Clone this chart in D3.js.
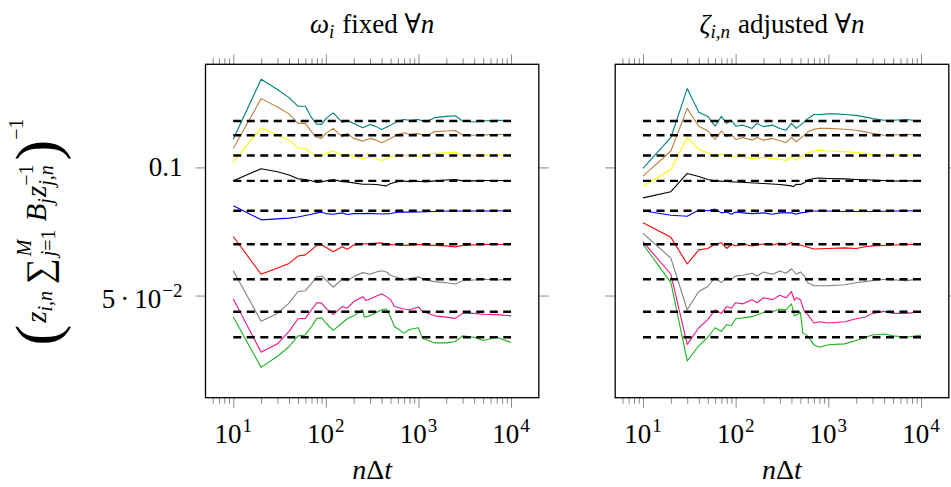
<!DOCTYPE html>
<html>
<head>
<meta charset="utf-8">
<script src="https://cdn.jsdelivr.net/npm/d3@7"></script>
<style>
  body { margin: 0; background: #fff; }
  text { font-family: "Liberation Serif", "DejaVu Serif", serif; fill: #000; }
</style>
</head>
<body>
<svg id="chart" width="951" height="487"></svg>
<script>
// Reference levels (dashed lines), top to bottom
const refValues = [0.1286, 0.1190, 0.1067, 0.0930, 0.0791, 0.0660, 0.0546, 0.0458, 0.0399];
const seriesColors = ["#008080", "#bf8040", "#ffff00", "#000000", "#0000ff", "#ff0000", "#808080", "#f0148c", "#1eb41e"];
const xTickExps = [1, 2, 3, 4];
const yTickValues = [0.1, 0.05];

// Left panel: omega_i fixed
const fixedTeal = [[10,0.1165],[20,0.1611],[30,0.1524],[40,0.1459],[50,0.1392],[60,0.1392],[70,0.1309],[80,0.1264],[90,0.1262],[100,0.1302],[120,0.1343],[150,0.1276],[170,0.1291],[200,0.1269],[250,0.1239],[300,0.1262],[350,0.1247],[400,0.1228],[500,0.1257],[600,0.1286],[700,0.1296],[800,0.1291],[1000,0.1296],[1200,0.1279],[1500,0.1309],[2000,0.1318],[2500,0.1323],[3000,0.1286],[4000,0.1279],[5000,0.1286],[7000,0.1291],[10000,0.1289]];
const fixedBrown = [[10,0.1108],[20,0.1451],[30,0.1386],[40,0.1336],[50,0.1269],[60,0.1269],[70,0.1212],[80,0.1176],[90,0.1170],[100,0.1202],[120,0.1235],[150,0.1180],[170,0.1202],[200,0.1170],[250,0.1153],[300,0.1170],[350,0.1159],[400,0.1143],[500,0.1170],[600,0.1197],[700,0.1206],[800,0.1197],[1000,0.1202],[1200,0.1184],[1500,0.1214],[2000,0.1218],[2500,0.1221],[3000,0.1192],[4000,0.1190],[5000,0.1192],[7000,0.1195],[10000,0.1197]];
const fixedYellow = [[10,0.1031],[20,0.1239],[30,0.1190],[40,0.1159],[50,0.1112],[60,0.1108],[70,0.1082],[80,0.1058],[90,0.1065],[100,0.1079],[120,0.1093],[150,0.1066],[170,0.1075],[200,0.1062],[250,0.1049],[300,0.1058],[350,0.1049],[400,0.1038],[500,0.1058],[600,0.1066],[700,0.1065],[800,0.1069],[1000,0.1062],[1200,0.1071],[1500,0.1079],[2000,0.1082],[2500,0.1086],[3000,0.1066],[4000,0.1066],[5000,0.1069],[7000,0.1069],[10000,0.1071]];
const fixedBlack = [[10,0.0930],[20,0.0993],[30,0.0977],[40,0.0960],[50,0.0940],[60,0.0937],[70,0.0930],[80,0.0922],[90,0.0924],[100,0.0930],[120,0.0937],[150,0.0926],[170,0.0924],[200,0.0920],[250,0.0913],[300,0.0913],[350,0.0912],[400,0.0908],[450,0.0905],[500,0.0917],[600,0.0926],[700,0.0929],[800,0.0926],[1000,0.0928],[1200,0.0924],[1500,0.0930],[2000,0.0934],[2500,0.0937],[3000,0.0930],[4000,0.0930],[5000,0.0932],[7000,0.0932],[10000,0.0932]];
const fixedBlue = [[10,0.0813],[20,0.0753],[30,0.0757],[40,0.0760],[50,0.0765],[60,0.0771],[70,0.0776],[80,0.0782],[90,0.0785],[100,0.0779],[120,0.0776],[150,0.0782],[170,0.0775],[200,0.0779],[250,0.0779],[300,0.0780],[400,0.0777],[500,0.0779],[600,0.0785],[700,0.0785],[1000,0.0786],[1500,0.0788],[2000,0.0790],[3000,0.0790],[5000,0.0790],[10000,0.0791]];
const fixedRed = [[10,0.0688],[20,0.0561],[30,0.0580],[40,0.0595],[50,0.0619],[60,0.0623],[70,0.0640],[80,0.0657],[90,0.0657],[100,0.0649],[120,0.0634],[150,0.0651],[170,0.0642],[200,0.0657],[250,0.0661],[300,0.0662],[400,0.0665],[450,0.0657],[500,0.0659],[700,0.0656],[1000,0.0659],[1500,0.0656],[2000,0.0654],[2500,0.0650],[3000,0.0656],[5000,0.0659],[10000,0.0659]];
const fixedGray = [[10,0.0572],[20,0.0435],[30,0.0454],[40,0.0480],[50,0.0511],[60,0.0513],[70,0.0534],[80,0.0553],[90,0.0556],[100,0.0544],[120,0.0523],[150,0.0546],[170,0.0541],[200,0.0554],[250,0.0566],[300,0.0561],[350,0.0568],[400,0.0572],[450,0.0568],[500,0.0558],[600,0.0551],[700,0.0544],[800,0.0548],[1000,0.0553],[1200,0.0544],[1500,0.0539],[2000,0.0536],[2500,0.0532],[3000,0.0542],[4000,0.0544],[5000,0.0546],[7000,0.0544],[10000,0.0546]];
const fixedMagenta = [[10,0.0491],[20,0.0368],[30,0.0385],[40,0.0412],[50,0.0441],[60,0.0442],[70,0.0463],[80,0.0481],[90,0.0480],[100,0.0467],[120,0.0451],[150,0.0471],[170,0.0467],[200,0.0484],[250,0.0497],[270,0.0487],[300,0.0491],[400,0.0505],[450,0.0497],[500,0.0489],[550,0.0471],[700,0.0465],[800,0.0463],[1000,0.0470],[1100,0.0459],[1500,0.0448],[2000,0.0445],[2500,0.0442],[3000,0.0454],[4000,0.0454],[5000,0.0452],[7000,0.0451],[10000,0.0448]];
const fixedGreen = [[10,0.0445],[20,0.0339],[30,0.0360],[40,0.0379],[50,0.0402],[60,0.0404],[70,0.0423],[80,0.0442],[90,0.0443],[100,0.0431],[120,0.0414],[150,0.0431],[170,0.0441],[200,0.0448],[250,0.0463],[260,0.0445],[300,0.0448],[400,0.0463],[450,0.0465],[500,0.0445],[550,0.0423],[700,0.0408],[800,0.0416],[1000,0.0420],[1100,0.0397],[1500,0.0387],[2000,0.0387],[2500,0.0390],[3000,0.0402],[4000,0.0399],[5000,0.0392],[7000,0.0399],[10000,0.0388]];

// Right panel: zeta_{i,n} adjusted
const adjTeal = [[10,0.0995],[20,0.1176],[30,0.1532],[40,0.1348],[50,0.1318],[60,0.1250],[70,0.1318],[80,0.1269],[90,0.1291],[100,0.1250],[120,0.1257],[150,0.1235],[170,0.1269],[200,0.1247],[250,0.1257],[300,0.1235],[350,0.1223],[400,0.1269],[450,0.1235],[500,0.1257],[550,0.1279],[600,0.1302],[700,0.1332],[800,0.1332],[1000,0.1336],[1200,0.1336],[1500,0.1332],[2000,0.1325],[2500,0.1313],[3000,0.1302],[4000,0.1291],[5000,0.1291],[7000,0.1296],[10000,0.1284]];
const adjBrown = [[10,0.0954],[20,0.1093],[30,0.1376],[40,0.1250],[50,0.1218],[60,0.1163],[70,0.1218],[80,0.1180],[90,0.1197],[100,0.1163],[120,0.1176],[150,0.1159],[170,0.1176],[200,0.1159],[250,0.1170],[300,0.1155],[350,0.1143],[400,0.1176],[450,0.1149],[500,0.1170],[550,0.1190],[600,0.1212],[700,0.1229],[800,0.1235],[1000,0.1235],[1500,0.1229],[2000,0.1223],[2500,0.1212],[3000,0.1202],[4000,0.1190],[5000,0.1192],[7000,0.1197],[10000,0.1186]];
const adjYellow = [[10,0.0903],[20,0.0989],[30,0.1176],[40,0.1101],[50,0.1082],[60,0.1058],[70,0.1075],[80,0.1062],[90,0.1065],[100,0.1058],[120,0.1058],[150,0.1049],[200,0.1056],[250,0.1049],[300,0.1047],[350,0.1038],[400,0.1058],[450,0.1040],[500,0.1056],[550,0.1071],[600,0.1082],[700,0.1093],[800,0.1098],[1000,0.1093],[1500,0.1089],[2000,0.1084],[2500,0.1079],[3000,0.1072],[4000,0.1066],[7000,0.1071],[10000,0.1065]];
const adjBlack = [[10,0.0848],[20,0.0877],[30,0.0968],[40,0.0952],[50,0.0937],[60,0.0930],[100,0.0924],[200,0.0917],[300,0.0912],[400,0.0905],[420,0.0901],[450,0.0913],[500,0.0912],[550,0.0920],[600,0.0934],[700,0.0942],[800,0.0944],[1000,0.0942],[1500,0.0940],[2000,0.0937],[3000,0.0934],[5000,0.0929],[7000,0.0930],[10000,0.0930]];
const adjBlue = [[10,0.0791],[20,0.0772],[30,0.0768],[40,0.0794],[50,0.0791],[60,0.0798],[70,0.0782],[80,0.0786],[90,0.0776],[100,0.0786],[120,0.0782],[150,0.0779],[200,0.0782],[250,0.0776],[300,0.0782],[400,0.0782],[450,0.0776],[500,0.0782],[600,0.0786],[700,0.0790],[1000,0.0790],[1500,0.0788],[2000,0.0788],[3000,0.0788],[5000,0.0790],[10000,0.0791]];
const adjRed = [[10,0.0741],[20,0.0685],[30,0.0593],[40,0.0640],[50,0.0645],[60,0.0661],[70,0.0665],[80,0.0645],[90,0.0660],[100,0.0654],[120,0.0661],[150,0.0654],[200,0.0661],[250,0.0657],[300,0.0664],[350,0.0657],[400,0.0666],[450,0.0657],[500,0.0657],[600,0.0649],[700,0.0643],[1000,0.0645],[1500,0.0647],[2000,0.0645],[2500,0.0651],[3000,0.0654],[5000,0.0657],[10000,0.0660]];
const adjGray = [[10,0.0700],[20,0.0612],[30,0.0463],[40,0.0511],[50,0.0525],[60,0.0551],[70,0.0536],[80,0.0551],[90,0.0546],[100,0.0556],[120,0.0558],[150,0.0564],[170,0.0556],[200,0.0568],[250,0.0561],[300,0.0571],[350,0.0564],[400,0.0578],[450,0.0561],[500,0.0568],[550,0.0556],[600,0.0536],[700,0.0527],[1000,0.0527],[1500,0.0530],[2000,0.0536],[3000,0.0542],[4000,0.0546],[7000,0.0542],[10000,0.0548]];
const adjMagenta = [[10,0.0669],[20,0.0561],[30,0.0384],[40,0.0420],[50,0.0439],[60,0.0463],[70,0.0454],[80,0.0471],[90,0.0467],[100,0.0481],[120,0.0478],[150,0.0489],[170,0.0481],[200,0.0494],[250,0.0489],[300,0.0501],[350,0.0494],[400,0.0511],[430,0.0487],[450,0.0494],[500,0.0489],[550,0.0459],[600,0.0451],[700,0.0431],[800,0.0434],[1000,0.0431],[1500,0.0434],[2000,0.0441],[2500,0.0445],[3000,0.0454],[4000,0.0459],[5000,0.0454],[7000,0.0454],[10000,0.0458]];
const adjGreen = [[10,0.0660],[20,0.0536],[30,0.0351],[40,0.0381],[50,0.0399],[60,0.0420],[70,0.0412],[80,0.0427],[90,0.0425],[100,0.0441],[120,0.0443],[150,0.0446],[200,0.0456],[250,0.0458],[300,0.0465],[350,0.0463],[400,0.0478],[430,0.0448],[450,0.0450],[500,0.0456],[530,0.0408],[600,0.0402],[700,0.0383],[800,0.0378],[1000,0.0383],[1500,0.0385],[2000,0.0392],[2500,0.0399],[3000,0.0404],[4000,0.0406],[5000,0.0402],[7000,0.0399],[10000,0.0404]];

const fixedSeries = [fixedTeal, fixedBrown, fixedYellow, fixedBlack, fixedBlue, fixedRed, fixedGray, fixedMagenta, fixedGreen];
const adjSeries = [adjTeal, adjBrown, adjYellow, adjBlack, adjBlue, adjRed, adjGray, adjMagenta, adjGreen];

const svg = d3.select("#chart");
const plotTop = 64.3, plotBottom = 397.7;
const xDomain = [Math.pow(10, 0.7), Math.pow(10, 4.3)];
const yDomain = [0.02877, 0.1747];
const tickColor = "#8a8a8a";
const fs = 27, fsSmall = 19;

const y = d3.scaleLog().domain(yDomain).range([plotBottom, plotTop]);

// lays out a row of text pieces (sub/superscripts, stacked limits) and returns its width
function mathText(g, parts, base) {
    let x = 0;
    parts.forEach(p => {
        if (p.gap) { x += p.gap; return; }
        const items = p.stack || [p];
        let adv = 0;
        items.forEach(q => {
            const t = g.append("text")
                .attr("x", x)
                .attr("y", q.dy || 0)
                .style("font-size", (q.size || base) + "px");
            const segs = q.segs || [[q.t, q.it]];
            segs.forEach(s => {
                t.append("tspan").style("font-style", s[1] ? "italic" : "normal").text(s[0]);
            });
            adv = Math.max(adv, t.node().getComputedTextLength());
        });
        x += adv;
    });
    return x;
}

function placeMath(parent, parts, base, x, yPos, anchor, transform) {
    const outer = parent.append("g")
        .attr("transform", transform || `translate(${x},${yPos})`);
    const inner = outer.append("g");
    const w = mathText(inner, parts, base);
    const shift = anchor === "middle" ? -w / 2 : anchor === "end" ? -w : 0;
    inner.attr("transform", `translate(${shift},0)`);
}

const panels = [
    { left: 205.5, right: 538.8, series: fixedSeries, yLabels: true,
      title: [{t: "ω", it: 1}, {t: "i", it: 1, size: fsSmall, dy: 5}, {gap: 8}, {t: "fixed ∀"}, {t: "n", it: 1}] },
    { left: 615.2, right: 948.8, series: adjSeries, yLabels: false,
      title: [{t: "ζ", it: 1}, {t: "i,n", it: 1, size: fsSmall, dy: 5}, {gap: 8}, {t: "adjusted ∀"}, {t: "n", it: 1}] }
];

panels.forEach(p => {
    const x = d3.scaleLog().domain(xDomain).range([p.left, p.right]);
    const g = svg.append("g");

    const allTicks = [];
    for (let e = 0; e <= 4; e++) {
        for (let m = 1; m <= 9; m++) {
            const v = m * Math.pow(10, e);
            if (v >= xDomain[0] && v <= xDomain[1]) allTicks.push(v);
        }
    }
    const majors = allTicks.filter(v => Math.abs(Math.log10(v) - Math.round(Math.log10(v))) < 1e-9);
    const minors = allTicks.filter(v => !majors.includes(v));

    // tick marks, drawn outside the box
    const tickSets = [
        [d3.axisBottom(x).tickValues(majors).tickSize(10), plotBottom],
        [d3.axisBottom(x).tickValues(minors).tickSize(6), plotBottom],
        [d3.axisTop(x).tickValues(majors).tickSize(10), plotTop],
        [d3.axisTop(x).tickValues(minors).tickSize(6), plotTop],
        [d3.axisLeft(y).tickValues(yTickValues).tickSize(10), p.left, true],
        [d3.axisRight(y).tickValues(yTickValues).tickSize(10), p.right, true]
    ];
    tickSets.forEach(([axis, pos, vertical]) => {
        const a = g.append("g")
            .attr("transform", vertical ? `translate(${pos},0)` : `translate(0,${pos})`)
            .call(axis.tickFormat("").tickSizeOuter(0));
        a.select(".domain").remove();
        a.selectAll(".tick line").attr("stroke", tickColor).attr("stroke-width", 1);
    });

    // data lines
    const line = d3.line().x(d => x(d[0])).y(d => y(d[1]));
    p.series.forEach((s, i) => {
        g.append("path")
            .datum(s)
            .attr("d", line)
            .attr("fill", "none")
            .attr("stroke", seriesColors[i])
            .attr("stroke-width", 1.1)
            .attr("stroke-linejoin", "round");
    });

    // reference levels
    refValues.forEach(v => {
        g.append("path")
            .datum([[10, v], [10000, v]])
            .attr("d", line)
            .attr("fill", "none")
            .attr("stroke", "#000")
            .attr("stroke-width", 2.4)
            .attr("stroke-dasharray", "8,5.5");
    });

    // frame
    g.append("rect")
        .attr("x", p.left).attr("y", plotTop)
        .attr("width", p.right - p.left).attr("height", plotBottom - plotTop)
        .attr("fill", "none").attr("stroke", "#000").attr("stroke-width", 1.3);

    // x tick labels
    xTickExps.forEach(k => {
        placeMath(g, [{t: "10"}, {gap: 1}, {t: String(k), size: fsSmall, dy: -11}], fs, x(Math.pow(10, k)), 443, "middle");
    });

    // x label
    placeMath(g, [{t: "n", it: 1}, {t: "Δ"}, {t: "t", it: 1}], 28, (p.left + p.right) / 2, 479, "middle");

    // title
    placeMath(g, p.title, fs, (p.left + p.right) / 2, 33, "middle");

    if (p.yLabels) {
        placeMath(g, [{t: "0.1"}], fs, p.left - 23, y(0.1) + 9, "end");
        placeMath(g, [{t: "5"}, {gap: 5}, {t: "·"}, {gap: 5}, {t: "10"}, {gap: 1}, {t: "−2", size: fsSmall, dy: -11}],
            fs, p.left - 23, y(0.05) + 12.5, "end");
    }
});

// y axis label (rotated)
const yLabelParts = [
    {t: "(", size: 62, dy: 12},
    {gap: 2},
    {t: "z", it: 1},
    {t: "i,n", it: 1, size: 20, dy: 6},
    {gap: 7},
    {t: "∑", size: 36, dy: 5},
    {gap: 2},
    {stack: [{t: "M", it: 1, size: 20, dy: -15}, {segs: [["j", 1], ["=1", 0]], size: 20, dy: 9}]},
    {gap: 8},
    {t: "B", it: 1},
    {t: "j", it: 1, size: 20, dy: 6},
    {gap: 1},
    {t: "z", it: 1},
    {stack: [{t: "−1", size: 20, dy: -13}, {t: "j,n", it: 1, size: 20, dy: 7}]},
    {gap: 4},
    {t: ")", size: 62, dy: 12},
    {t: "−1", size: 20, dy: -23}
];
placeMath(svg, yLabelParts, 29, 0, 0, "middle", "translate(46,232) rotate(-90)");
</script>
</body>
</html>
